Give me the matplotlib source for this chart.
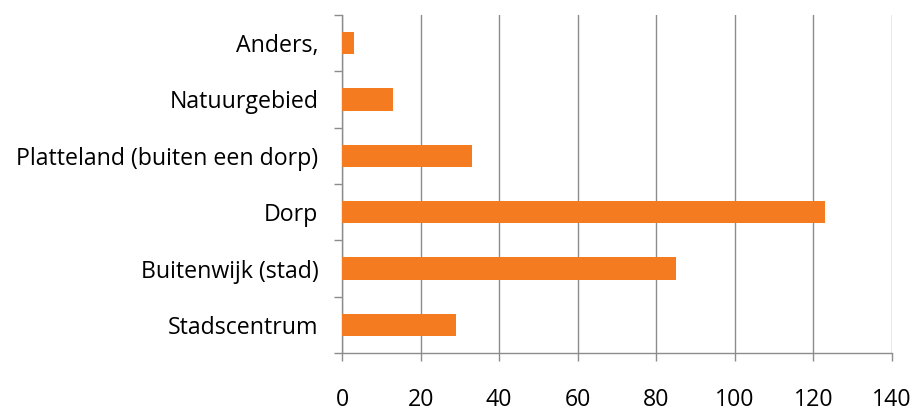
import matplotlib
matplotlib.use("Agg")
import matplotlib.pyplot as plt
from matplotlib.ticker import FixedLocator

categories = ["Stadscentrum", "Buitenwijk (stad)", "Dorp",
              "Platteland (buiten een dorp)", "Natuurgebied", "Anders,"]
values = [29, 85, 123, 33, 13, 3]
x_ticks = [0, 20, 40, 60, 80, 100, 120, 140]

plt.rcParams["font.family"] = ["Open Sans", "DejaVu Sans"]

fig = plt.figure(figsize=(9.18, 4.12), dpi=100)
ax = fig.add_axes([342 / 918, 1 - 353 / 412, (892 - 342) / 918, (353 - 15) / 412])

grid_col = "#8c8c8c"
pos = list(range(len(categories)))
ax.barh(pos, values, height=0.4, color="#F47B20", zorder=3)

ax.set_xlim(0, 140)
ax.set_ylim(-0.5, len(categories) - 0.5)
ax.set_xticks(x_ticks)
ax.set_xticklabels([str(t) for t in x_ticks])
ax.set_yticks(pos)
ax.set_yticklabels(categories)
ax.yaxis.set_minor_locator(FixedLocator([p - 0.5 for p in range(len(categories) + 1)]))

ax.grid(axis="x", color=grid_col, linewidth=1.0, zorder=0)
for s in ["top", "right"]:
    ax.spines[s].set_visible(False)
for s in ["left", "bottom"]:
    ax.spines[s].set_color(grid_col)
    ax.spines[s].set_linewidth(1.0)

ax.tick_params(axis="x", length=6, width=1.0, color=grid_col, pad=19,
               labelsize=16.7, labelcolor="black")
ax.tick_params(axis="y", which="major", length=0, pad=17, labelsize=16.7,
               labelcolor="black")
ax.tick_params(axis="y", which="minor", length=6, width=1.0, color=grid_col)

fig.savefig("out.png", dpi=100)
